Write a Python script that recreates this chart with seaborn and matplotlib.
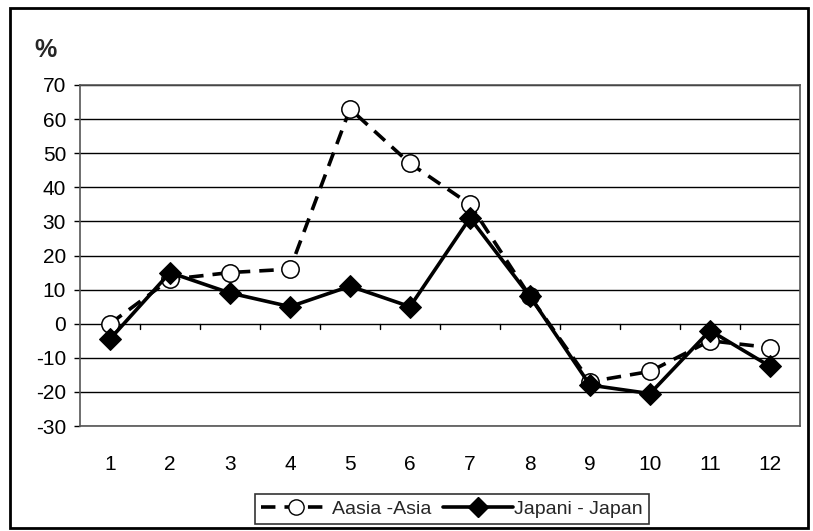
import matplotlib
matplotlib.use("Agg")
import matplotlib.pyplot as plt
import seaborn as sns
import pandas as pd
from matplotlib.patches import Rectangle
from matplotlib.lines import Line2D

months = [1, 2, 3, 4, 5, 6, 7, 8, 9, 10, 11, 12]
asia = [0, 13, 15, 16, 63, 47, 35, 8, -17, -14, -5, -7]
japan = [-4.5, 15, 9, 5, 11, 5, 31, 8, -18, -20.5, -2, -12.5]
yticks = [-30, -20, -10, 0, 10, 20, 30, 40, 50, 60, 70]
series_names = ["Aasia -Asia", "Japani - Japan"]

sns.set_theme(style="white")
plt.rcParams['font.family'] = ['Liberation Sans', 'DejaVu Sans']
plt.rcParams['axes.unicode_minus'] = False

df = pd.DataFrame({
    "month": months * 2,
    "value": asia + japan,
    "series": [series_names[0]] * 12 + [series_names[1]] * 12,
})

fig = plt.figure(figsize=(8.13, 5.31), dpi=100)
W, H = 813, 531
ax = fig.add_axes([80 / W, 1 - 426 / H, 720 / W, 341 / H])

for v in yticks:
    ax.axhline(v, color="black", lw=1.0, zorder=0)

sns.lineplot(data=df, x="month", y="value", hue="series", style="series",
             palette=["black", "black"], dashes={series_names[0]: (4, 2.5), series_names[1]: ""},
             markers={series_names[0]: "o", series_names[1]: "D"},
             markersize=11, linewidth=2.6, ax=ax, legend=False)
for ln in ax.get_lines():
    if ln.get_marker() == "o":
        ln.set_markerfacecolor("white")
        ln.set_markeredgecolor("black")
        ln.set_markeredgewidth(1.1)
        ln.set_markersize(12.5)
    elif ln.get_marker() == "D":
        ln.set_markerfacecolor("black")
        ln.set_markeredgecolor("black")
        ln.set_markersize(11)

ax.set_xlim(0.5, 12.5)
ax.set_ylim(-30, 70)
ax.set_xticks(months)
ax.set_yticks(yticks)
ax.set_xlabel("")
ax.set_ylabel("")
ax.tick_params(axis="x", length=0, pad=21, labelsize=15, colors="black")
ax.tick_params(axis="y", length=4, width=1, pad=6, labelsize=15, colors="black", left=True)
for b in [1.5 + i for i in range(11)]:
    ax.plot([b, b], [0, -1.6], color="black", lw=1, zorder=1)
for s in ax.spines.values():
    s.set_color("#555555")
    s.set_linewidth(1.2)
    s.set_linestyle((0, (1, 1)))

fig.text(34 / W, 1 - 50 / H, "%", fontsize=18, fontweight="bold", ha="left", va="center")

h1 = Line2D([], [], color="black", lw=2.6, ls=(0, (4, 2.5)), marker="o", markersize=11,
            markerfacecolor="white", markeredgecolor="black")
h2 = Line2D([], [], color="black", lw=2.6, marker="D", markersize=10,
            markerfacecolor="black", markeredgecolor="black")
leg = fig.legend([h1, h2], series_names, loc="center", bbox_to_anchor=(452 / W, 1 - 509 / H),
                 ncol=2, frameon=True, fancybox=False, edgecolor="black", fontsize=14,
                 handlelength=3.6, handletextpad=0.05, columnspacing=0.6, borderpad=0.3,
                 borderaxespad=0)
leg.get_frame().set_linewidth(1.2)

fig.patches.append(Rectangle((10 / W, 1 - 528 / H), 798 / W, 520 / H, transform=fig.transFigure,
                             fill=False, edgecolor="black", lw=2))

fig.savefig("out.png", dpi=100)
